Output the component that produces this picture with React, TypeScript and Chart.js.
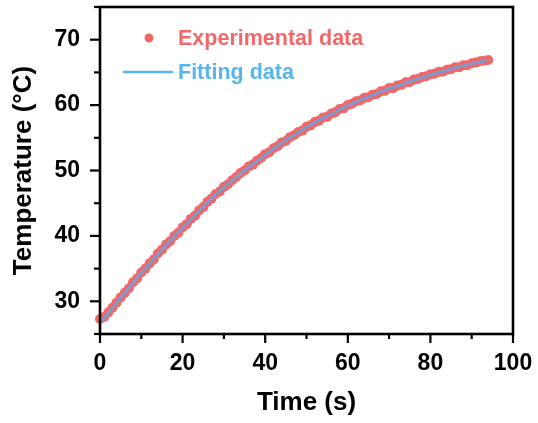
import React, { useEffect, useRef } from 'react';
import { Chart, registerables } from 'chart.js';

Chart.register(...registerables);

// Experimental data (s, °C)
const timeExp = [
  0, 1, 2, 3, 4, 5, 6, 7, 8, 9, 10, 11, 12, 13, 14, 15, 16, 17, 18, 19,
  20, 21, 22, 23, 24, 25, 26, 27, 28, 29, 30, 31, 32, 33, 34, 35, 36, 37, 38, 39,
  40, 41, 42, 43, 44, 45, 46, 47, 48, 49, 50, 51, 52, 53, 54, 55, 56, 57, 58, 59,
  60, 61, 62, 63, 64, 65, 66, 67, 68, 69, 70, 71, 72, 73, 74, 75, 76, 77, 78, 79,
  80, 81, 82, 83, 84, 85, 86, 87, 88, 89, 90, 91, 92, 93, 94,
];
const tempExp = [
  27.3, 27.6, 28.3, 29.0, 29.8, 30.6, 31.3, 32.0, 32.9, 33.5,
  34.4, 35.0, 35.8, 36.4, 37.3, 37.9, 38.7, 39.2, 40.0, 40.5,
  41.3, 41.8, 42.6, 43.1, 43.9, 44.4, 45.2, 45.7, 46.4, 46.8,
  47.5, 47.9, 48.5, 49.0, 49.6, 50.0, 50.6, 50.9, 51.5, 51.9,
  52.5, 52.8, 53.4, 53.7, 54.3, 54.5, 55.1, 55.4, 55.9, 56.1,
  56.7, 56.9, 57.4, 57.6, 58.1, 58.2, 58.7, 58.9, 59.4, 59.5,
  60.0, 60.2, 60.6, 60.7, 61.1, 61.2, 61.6, 61.7, 62.1, 62.2,
  62.6, 62.6, 63.0, 63.1, 63.5, 63.5, 63.9, 64.0, 64.3, 64.4,
  64.7, 64.8, 65.1, 65.1, 65.4, 65.5, 65.8, 65.8, 66.1, 66.1,
  66.4, 66.5, 66.7, 66.8, 66.9,
];

// Fitting curve (s, °C)
const timeFit = [
  0, 2, 4, 6, 8, 10, 12, 14, 16, 18, 20, 22, 24, 26, 28, 30, 32, 34, 36, 38,
  40, 42, 44, 46, 48, 50, 52, 54, 56, 58, 60, 62, 64, 66, 68, 70, 72, 74, 76, 78,
  80, 82, 84, 86, 88, 90, 92, 94,
];
const tempFit = [
  26.6, 28.2, 29.7, 31.3, 32.8, 34.3, 35.7, 37.2, 38.6, 39.9,
  41.2, 42.5, 43.8, 45.1, 46.3, 47.4, 48.4, 49.5, 50.5, 51.4,
  52.4, 53.3, 54.2, 55.0, 55.8, 56.6, 57.3, 58.0, 58.6, 59.3,
  59.9, 60.5, 61.0, 61.5, 62.0, 62.5, 62.9, 63.4, 63.8, 64.2,
  64.6, 65.0, 65.3, 65.7, 66.0, 66.3, 66.6, 66.9,
];

const xTickLabels = [0, 20, 40, 60, 80, 100];
const yTickLabels = [30, 40, 50, 60, 70];

const seriesNames = ['Experimental data', 'Fitting data'];
const xTitle = 'Time (s)';
const yTitle = 'Temperature (°C)';

const RED = 'rgb(240, 104, 104)';
const BLUE = 'rgb(86, 180, 238)';
const FIT_LINE = 'rgba(92, 168, 238, 0.75)';
const FONT = '"Liberation Sans", Arial, sans-serif';

const framePlugin = {
  id: 'frameAndTicks',
  afterDatasetsDraw(chart: any) {
    const { ctx, chartArea: a, scales } = chart;
    const x = scales.x;
    const y = scales.y;
    ctx.save();
    ctx.strokeStyle = '#000';
    ctx.lineWidth = 2.6;
    ctx.lineCap = 'butt';
    ctx.strokeRect(a.left, a.top, a.right - a.left, a.bottom - a.top);
    ctx.lineWidth = 2.2;
    x.ticks.forEach((t: any) => {
      const px = x.getPixelForValue(t.value);
      const len = xTickLabels.includes(t.value) ? 9 : 5;
      ctx.beginPath();
      ctx.moveTo(px, a.bottom);
      ctx.lineTo(px, a.bottom + len);
      ctx.stroke();
    });
    y.ticks.forEach((t: any) => {
      const py = y.getPixelForValue(t.value);
      const len = yTickLabels.includes(t.value) ? 10 : 6;
      ctx.beginPath();
      ctx.moveTo(a.left, py);
      ctx.lineTo(a.left - len, py);
      ctx.stroke();
    });
    ctx.restore();
  },
  afterDraw(chart: any) {
    const { ctx, chartArea: a } = chart;
    ctx.save();
    ctx.font = `bold 21.5px ${FONT}`;
    ctx.textBaseline = 'middle';
    ctx.textAlign = 'left';
    // Experimental entry
    const y1 = a.top + 31;
    ctx.fillStyle = RED;
    ctx.beginPath();
    ctx.arc(a.left + 49, y1, 4.5, 0, Math.PI * 2);
    ctx.fill();
    ctx.fillText(seriesNames[0], a.left + 78, y1 + 1);
    // Fitting entry
    const y2 = a.top + 65;
    ctx.strokeStyle = BLUE;
    ctx.lineWidth = 2.5;
    ctx.beginPath();
    ctx.moveTo(a.left + 23, y2);
    ctx.lineTo(a.left + 73, y2);
    ctx.stroke();
    ctx.fillStyle = BLUE;
    ctx.fillText(seriesNames[1], a.left + 78, y2 + 1);
    ctx.restore();
  },
};

export default function App() {
  const canvasRef = useRef<HTMLCanvasElement | null>(null);

  useEffect(() => {
    const canvas = canvasRef.current;
    if (!canvas) return;
    const expPoints = timeExp.map((t, i) => ({ x: t, y: tempExp[i] }));
    const fitPoints = timeFit.map((t, i) => ({ x: t, y: tempFit[i] }));

    const chart = new Chart(canvas, {
      type: 'scatter',
      data: {
        datasets: [
          {
            type: 'line',
            label: seriesNames[1],
            data: fitPoints,
            borderColor: FIT_LINE,
            borderWidth: 3,
            pointRadius: 0,
            fill: false,
            tension: 0.3,
            order: 0,
            clip: false,
          } as any,
          {
            type: 'scatter',
            label: seriesNames[0],
            data: expPoints,
            backgroundColor: RED,
            borderWidth: 0,
            pointRadius: 5,
            pointHoverRadius: 5,
            order: 1,
            clip: false,
          } as any,
        ],
      },
      options: {
        animation: false,
        responsive: false,
        devicePixelRatio: 1,
        layout: { padding: { top: 7, right: 25, left: 0, bottom: 0 } },
        plugins: {
          legend: { display: false },
          tooltip: { enabled: false },
        },
        scales: {
          x: {
            type: 'linear',
            position: 'bottom',
            min: 0,
            max: 100,
            afterFit: (s: any) => {
              s.height = 89;
              s.paddingLeft = 0;
              s.paddingRight = 0;
            },
            ticks: {
              stepSize: 10,
              autoSkip: false,
              maxRotation: 0,
              padding: 16,
              color: '#000',
              font: { family: FONT, size: 23, weight: 'bold' },
              callback: (v: any) => (xTickLabels.includes(Number(v)) ? String(v) : ''),
            },
            grid: { display: false, drawTicks: false, tickLength: 0 },
            border: { display: false },
            title: {
              display: true,
              text: xTitle,
              color: '#000',
              font: { family: FONT, size: 26, weight: 'bold' },
              padding: { top: 5, bottom: 5 },
            },
          },
          y: {
            type: 'linear',
            position: 'left',
            min: 25,
            max: 75,
            afterFit: (s: any) => {
              s.width = 100;
              s.paddingTop = 0;
              s.paddingBottom = 0;
            },
            ticks: {
              stepSize: 5,
              autoSkip: false,
              padding: 20,
              color: '#000',
              font: { family: FONT, size: 23, weight: 'bold' },
              callback: (v: any) => (yTickLabels.includes(Number(v)) ? String(v) : ''),
            },
            grid: { display: false, drawTicks: false, tickLength: 0 },
            border: { display: false },
            title: {
              display: true,
              text: yTitle,
              color: '#000',
              font: { family: FONT, size: 26, weight: 'bold' },
              padding: { top: 8, bottom: 8 },
            },
          },
        },
      },
      plugins: [framePlugin],
    });
    return () => chart.destroy();
  }, []);

  return (
    <div style={{ position: 'fixed', left: 0, top: 0, width: 538, height: 423, background: '#fff' }}>
      <canvas ref={canvasRef} width={538} height={423} style={{ width: 538, height: 423, display: 'block' }} />
    </div>
  );
}
